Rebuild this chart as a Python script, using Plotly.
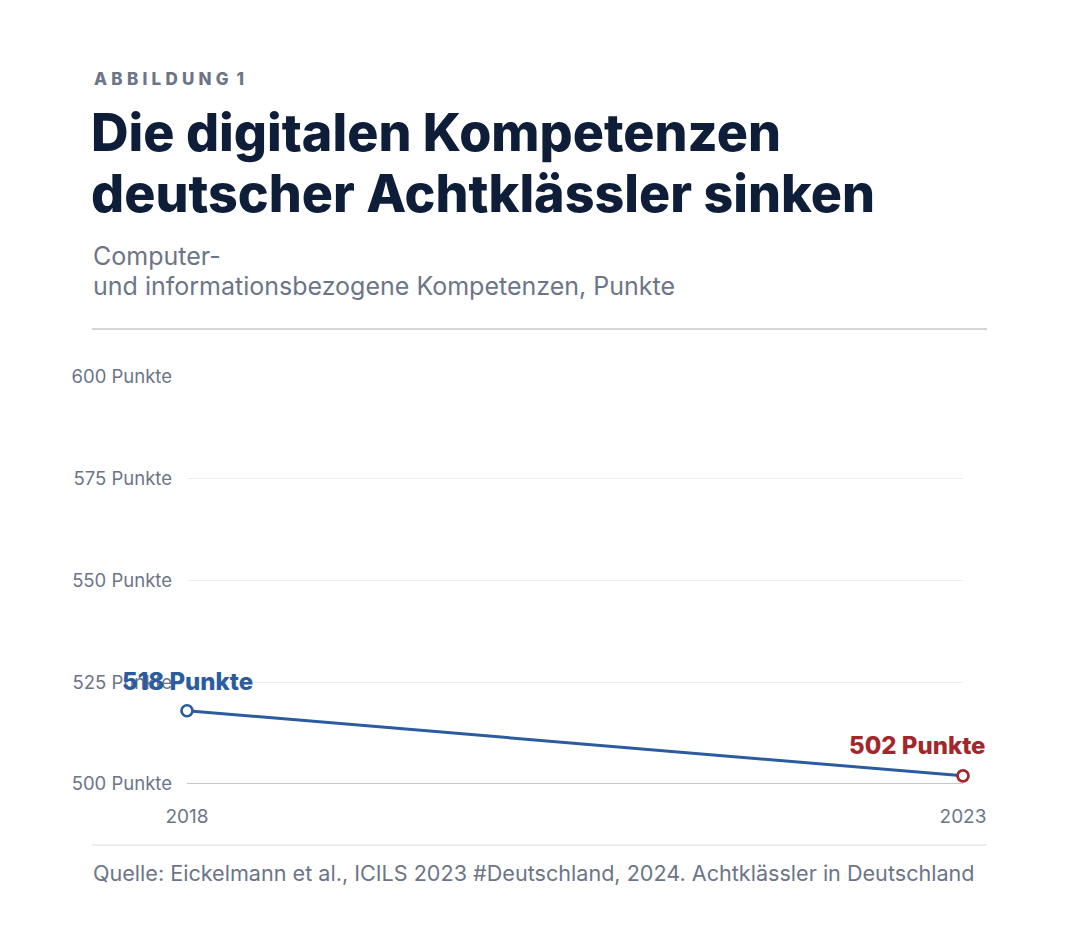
import plotly.graph_objects as go

# data
years = [2018, 2023]
punkte = [518, 502]
point_colors = ["#2b5c9e", "#a3262a"]
y_ticks = [500, 525, 550, 575, 600]
y_tick_labels = [str(v) + " Punkte" for v in y_ticks]
x_ticks = [2018, 2023]

FONT = "Inter"
GREY = "#6c7588"
NAVY = "#0e1e38"

# page has an 8px body margin, so screen coords are shifted
OFF = 8
W, H = 1080, 949
L, R, T, B = 187 - OFF, 963 - OFF, 377 - OFF, 784 - OFF


def px_x(x):
    return (x - OFF - L) / (R - L)


def px_y(y):
    return (B - (y - OFF)) / (B - T)


def label(x, y, text, size, color, weight=400):
    fig.add_annotation(xref="paper", yref="paper", x=px_x(x), y=px_y(y), text=text,
                       showarrow=False, xanchor="left", yanchor="middle",
                       font=dict(family=FONT, size=size, color=color, weight=weight))


fig = go.Figure()

fig.add_trace(go.Scatter(
    x=years, y=punkte,
    mode="lines",
    line=dict(color="#2b5c9e", width=3),
    hoverinfo="skip",
    showlegend=False,
))
fig.add_trace(go.Scatter(
    x=years, y=punkte,
    mode="markers",
    marker=dict(size=11, color="white", line=dict(color=point_colors, width=2.7)),
    showlegend=False,
    cliponaxis=False,
))

fig.add_annotation(x=years[0], y=punkte[0], text="%d Punkte" % punkte[0],
                   showarrow=False, xanchor="center", yanchor="middle", yshift=29,
                   font=dict(family=FONT, size=24, color=point_colors[0], weight=800))
fig.add_annotation(x=years[1], y=punkte[1], text="%d Punkte" % punkte[1],
                   showarrow=False, xanchor="right", yanchor="middle", yshift=30, xshift=25,
                   font=dict(family=FONT, size=24, color=point_colors[1], weight=800))

# header
label(92, 79, "\u2005".join("ABBILDUNG") + "\u2005 1", 17, GREY, weight=800)
label(89, 133, "Die digitalen Kompetenzen", 52, NAVY, weight=800)
label(89, 193, "deutscher Achtklässler sinken", 52, NAVY, weight=800)
label(91, 256, "Computer-", 25, GREY)
label(91, 286, "und informationsbezogene Kompetenzen, Punkte", 25, GREY)
label(91, 873, "Quelle: Eickelmann et al., ICILS 2023 #Deutschland, 2024. Achtklässler in Deutschland",
      21.6, GREY)

fig.add_shape(type="line", xref="paper", yref="paper",
              x0=px_x(92), x1=px_x(987), y0=px_y(329), y1=px_y(329),
              line=dict(color="#c4c7cc", width=1.5))
fig.add_shape(type="line", xref="paper", yref="paper",
              x0=px_x(92), x1=px_x(987), y0=px_y(845), y1=px_y(845),
              line=dict(color="#e6e7ea", width=1.5))

fig.update_layout(
    width=W, height=H,
    margin=dict(l=L, r=W - R, t=T, b=H - B),
    paper_bgcolor="white", plot_bgcolor="white",
    font=dict(family=FONT, color=GREY),
    xaxis=dict(range=[2018, 2023], tickvals=x_ticks, ticktext=[str(v) for v in x_ticks],
               showgrid=False, zeroline=False, showline=False,
               ticks="", ticklabelstandoff=19,
               tickfont=dict(family=FONT, size=19, color=GREY)),
    yaxis=dict(range=[500, 600], tickvals=y_ticks, ticktext=y_tick_labels,
               showgrid=True, gridcolor="#eeeff1", gridwidth=1,
               zeroline=False, showline=False, ticks="", ticklabelstandoff=14,
               tickfont=dict(family=FONT, size=18.5, color=GREY)),
)
fig.add_shape(type="line", xref="paper", yref="y", x0=0, x1=1, y0=500, y1=500,
              line=dict(color="#8a8f98", width=1), layer="below")

fig.write_html("out.html")
